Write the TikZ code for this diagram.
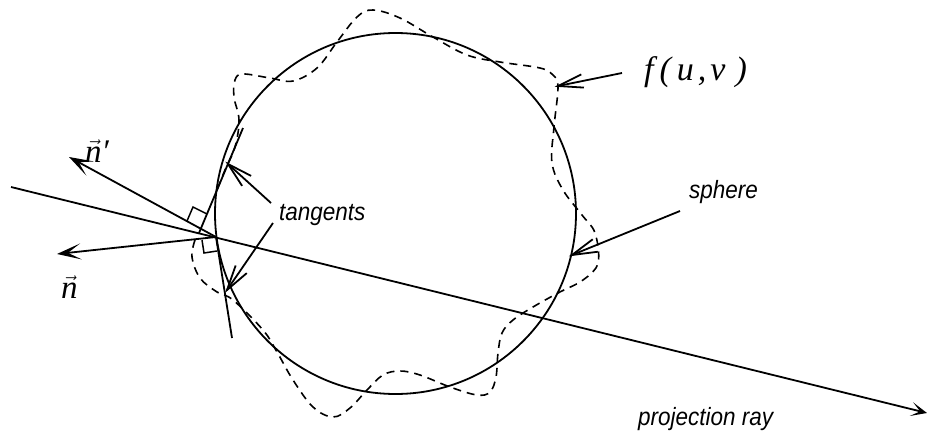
\documentclass[tikz,border=0pt]{standalone}
\usepackage{fontspec}
\setmainfont{Liberation Sans}
\newfontfamily\serifit{Liberation Serif}
\usetikzlibrary{arrows.meta,calc}
\tikzset{
 line/.style={line width=1.8pt,black},
 solidtip/.style={line,-{Stealth[length=24pt,width=16pt,inset=13pt]}},
 raytip/.style={line,-{Stealth[length=16pt,width=14pt,inset=9pt]}},
 pointer/.style={line,line join=miter,miter limit=8},
 wavy/.style={line width=1.6pt,dash pattern=on 8pt off 6pt},
 lab/.style={font=\fontsize{25}{28}\selectfont\itshape,inner sep=0pt,anchor=base west,xscale=0.9},
 mathlab/.style={font=\fontsize{33}{36}\selectfont\serifit\itshape,inner sep=0pt,anchor=base west},
 fnlab/.style={font=\fontsize{34}{38}\selectfont\serifit\itshape,inner sep=0pt,anchor=base west}
}
\newcommand{\ptrarrow}[2]{%
 \draw[pointer] (#1) -- (#2);
 \draw[pointer] ($(#2)!26pt!15:(#1)$) -- (#2) -- ($(#2)!26pt!-15:(#1)$);}
\begin{document}
\begin{tikzpicture}[x=1pt,y=-1pt]
\useasboundingbox (0,0) rectangle (927,434);
\node[draw=none,inner sep=0pt,minimum size=0pt] (c) at (395.5,213.5) {};
\draw[line] (c) circle[radius=180.5pt];
% dashed surface
\draw[wavy] plot[smooth,tension=0.6] coordinates {(195,240)(192,257)(200,278)(217,292)(233,300)(263,330)(277,352)(293,380)(313,407)(333,417)(350,408)(367,390)(383,375)(400,371)(420,375)(450,387)(477,395)(490,392)(496,377)(498,353)(502,333)(513,320)(533,307)(558,293)(583,280)(598,263)(595,233)(582,215)(563,190)(552,163)(554,127)(558,87)(553,75)(540,68)(500,62)(467,55)(433,37)(400,18)(373,10)(357,17)(337,42)(317,68)(293,81)(270,78)(243,74)(235,80)(234,97)(239,120)(235,147)(225,170)(217,190)};
% projection ray
\coordinate (rayA) at (11,187);
\coordinate (rayB) at (927,413);
\draw[raytip] (rayA) -- (rayB);
% normals and tangents
\coordinate (p) at (216,237);
\coordinate (nn) at (57,254);
\coordinate (np) at (69,157);
\draw[solidtip] (p) -- (nn);
\draw[solidtip] (p) -- (np);
\coordinate (t1a) at (199,233);
\coordinate (t1b) at (243,128);
\coordinate (t2b) at (232,338);
\draw[line] (t1a) -- (t1b);
\draw[line] (p) -- (t2b);
\draw[line,line width=1.5pt] (187,221) -- (193,207) -- (207,214);
\draw[line,line width=1.5pt] (202,240) -- (204,253) -- (217,251);
% labels
\node[lab] (tang) at (279,220) {tangents};
\node[lab] (sph) at (689,198) {sphere};
\node[lab] (proj) at (638,425) {projection ray};
\node[fnlab] (f) at (644,80) {f\kern6pt(\kern6pt u\kern4pt,\kern4pt v\kern10pt)};
\node[mathlab] (n1) at (61,298) {$\vec{\hbox{\serifit\itshape n}}$};
\node[mathlab] (n2) at (85,162) {$\vec{\hbox{\serifit\itshape n}}$′};
% pointer arrows
\coordinate (ta1) at (271,203);
\coordinate (tt1) at (228,164);
\coordinate (ta2) at (273,223);
\coordinate (tt2) at (227,290);
\coordinate (fa) at (622,73);
\coordinate (ft) at (558,86);
\coordinate (sa) at (680,211);
\coordinate (st) at (572,255);
\ptrarrow{ta1}{tt1}
\ptrarrow{ta2}{tt2}
\ptrarrow{fa}{ft}
\ptrarrow{sa}{st}
\end{tikzpicture}
\end{document}
